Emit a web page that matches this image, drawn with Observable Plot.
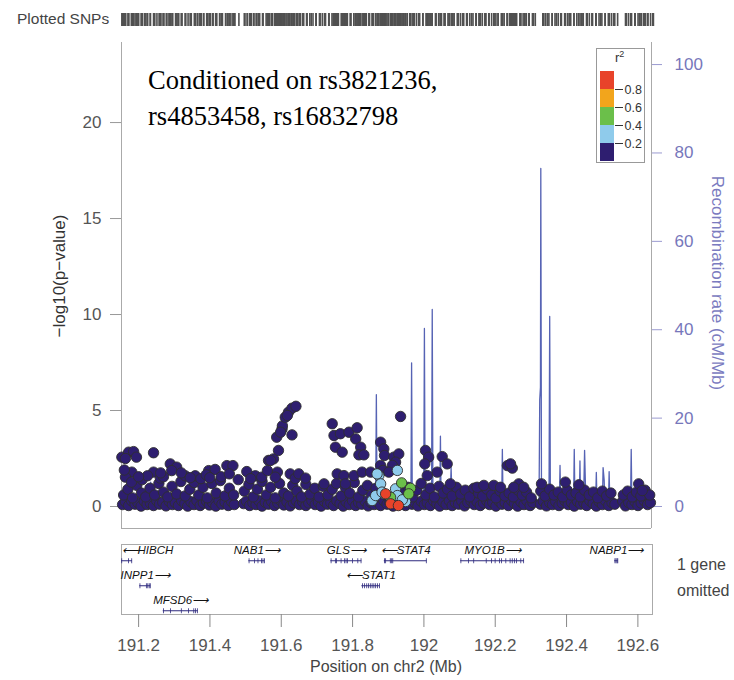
<!DOCTYPE html>
<html><head><meta charset="utf-8">
<script src="https://cdn.jsdelivr.net/npm/d3@7"></script>
<script src="https://cdn.jsdelivr.net/npm/@observablehq/plot@0.6"></script>
<style>
body{margin:0;background:#fff;font-family:"Liberation Sans",Arial,sans-serif;}
#fig{position:relative;width:734px;height:680px;overflow:hidden;background:#fff;}
#fig > *{position:absolute;}
.t{white-space:nowrap;color:#444;}
</style></head><body><div id="fig"></div>
<script>
// ---------- data ----------
const xDomain = [191.152, 192.641];
const xTicks = [191.2, 191.4, 191.6, 191.8, 192.0, 192.2, 192.4, 192.6];
const xTickLabels = ["191.2","191.4","191.6","191.8","192","192.2","192.4","192.6"];
const pDomain = [-1.146, 24.17];
const pTicks = [0, 5, 10, 15, 20];
const recombTicks = [0, 20, 40, 60, 80, 100];
const recombToLogP = 23.02 / 100;
const r2Breaks = [0.2, 0.4, 0.6, 0.8];
const r2Colors = ["#2E1E70", "#8FCBEB", "#6BBF4A", "#F2A51C", "#E8432A"];

// SNPs with r2 < 0.2 : [position Mb, -log10 p]
const snpsR2Low = [
 [191.155,0.1],[191.163,0.25],[191.172,0.05],[191.180,0.3],[191.190,0.12],[191.198,0.2],[191.207,0.02],[191.216,0.28],[191.224,0.1],[191.233,0.18],
 [191.242,0.05],[191.251,0.3],[191.259,0.12],[191.268,0.22],[191.277,0.03],[191.286,0.27],[191.295,0.1],[191.303,0.2],[191.312,0.05],[191.321,0.3],
 [191.330,0.15],[191.338,0.02],[191.347,0.25],[191.356,0.1],[191.364,0.3],[191.373,0.05],[191.382,0.18],[191.391,0.28],[191.399,0.08],[191.408,0.2],
 [191.417,0.02],[191.426,0.3],[191.434,0.12],[191.443,0.22],[191.452,0.05],[191.461,0.26],[191.469,0.1],[191.495,0.15],[191.503,0.28],[191.512,0.05],
 [191.521,0.2],[191.530,0.1],[191.538,0.3],[191.547,0.02],[191.556,0.22],[191.565,0.12],[191.573,0.28],[191.582,0.05],[191.591,0.18],[191.600,0.3],
 [191.608,0.08],[191.617,0.24],[191.626,0.03],[191.635,0.2],[191.643,0.3],[191.652,0.1],[191.661,0.25],[191.670,0.05],[191.678,0.18],[191.687,0.3],
 [191.696,0.1],[191.705,0.22],[191.713,0.02],[191.722,0.27],[191.731,0.12],[191.740,0.2],[191.748,0.05],[191.757,0.3],[191.766,0.15],[191.775,0.02],
 [191.783,0.25],[191.792,0.1],[191.801,0.3],[191.810,0.05],[191.818,0.2],[191.827,0.12],[191.836,0.28],[191.845,0.03],[191.853,0.2],[191.862,0.1],
 [191.871,0.25],[191.880,0.05],[191.889,0.3],[191.898,0.12],[191.906,0.2],[191.915,0.02],[191.924,0.28],[191.933,0.1],[191.941,0.22],[191.950,0.05],
 [191.959,0.3],[191.968,0.12],[191.976,0.2],[191.985,0.03],[191.994,0.27],[192.003,0.1],[192.011,0.2],[192.020,0.05],[192.029,0.3],[192.038,0.15],
 [192.046,0.02],[192.055,0.25],[192.064,0.1],[192.073,0.3],[192.081,0.05],[192.090,0.2],[192.099,0.12],[192.108,0.28],[192.116,0.03],[192.125,0.2],
 [192.134,0.3],[192.143,0.1],[192.151,0.25],[192.160,0.05],[192.169,0.18],[192.178,0.3],[192.186,0.1],[192.195,0.22],[192.204,0.02],[192.213,0.27],
 [192.221,0.12],[192.230,0.2],[192.239,0.05],[192.248,0.3],[192.256,0.15],[192.265,0.02],[192.274,0.25],[192.283,0.1],[192.291,0.3],[192.300,0.05],
 [192.308,0.2],[192.329,0.12],[192.337,0.28],[192.346,0.03],[192.355,0.2],[192.363,0.1],[192.372,0.25],[192.381,0.05],[192.390,0.18],[192.398,0.3],
 [192.407,0.1],[192.416,0.22],[192.424,0.02],[192.433,0.27],[192.442,0.12],[192.451,0.2],[192.459,0.05],[192.468,0.3],[192.477,0.15],[192.486,0.02],
 [192.494,0.25],[192.503,0.1],[192.512,0.3],[192.521,0.05],[192.530,0.2],[192.538,0.12],[192.560,0.28],[192.568,0.03],[192.577,0.2],[192.586,0.1],
 [192.595,0.25],[192.603,0.05],[192.612,0.18],[192.621,0.3],[192.630,0.1],[192.638,0.2],
 [191.158,0.6],[191.170,0.9],[191.183,0.45],[191.195,1.1],[191.208,0.7],[191.220,0.5],[191.232,0.95],[191.245,0.6],[191.257,1.2],[191.270,0.75],
 [191.282,0.5],[191.294,1.05],[191.307,0.65],[191.319,1.3],[191.331,0.55],[191.344,0.9],[191.356,1.25],[191.369,0.6],[191.381,1.0],[191.393,0.45],
 [191.406,1.2],[191.418,0.7],[191.430,1.35],[191.443,0.55],[191.455,0.95],[191.467,0.6],[191.497,0.8],[191.510,1.15],[191.522,0.5],[191.534,0.9],
 [191.547,1.3],[191.559,0.6],[191.571,1.0],[191.584,0.45],[191.596,1.2],[191.608,0.7],[191.621,0.55],[191.633,1.1],[191.645,0.8],[191.658,0.5],
 [191.670,1.15],[191.682,0.65],[191.695,0.95],[191.707,0.5],[191.719,1.05],[191.732,0.6],[191.744,0.9],[191.756,1.2],[191.769,0.55],[191.781,1.0],
 [191.793,0.7],[191.806,1.25],[191.818,0.5],[191.830,0.85],[191.843,1.1],[191.855,0.6],[191.867,0.95],[191.945,0.7],[191.957,1.0],[191.970,0.5],
 [191.982,0.85],[191.994,1.2],[192.007,0.6],[192.019,0.95],[192.031,0.5],[192.044,1.05],[192.056,0.7],[192.068,0.9],[192.081,0.55],[192.093,1.0],
 [192.105,0.65],[192.118,0.85],[192.130,0.5],[192.142,0.95],[192.155,0.7],[192.167,0.55],[192.179,0.9],[192.192,0.6],[192.204,0.45],[192.216,0.8],
 [192.229,0.55],[192.241,0.7],[192.253,0.5],[192.266,0.85],[192.278,0.6],[192.290,0.75],[192.303,0.45],[192.330,0.8],[192.342,0.55],[192.355,0.9],
 [192.367,0.6],[192.379,0.75],[192.392,0.5],[192.404,0.85],[192.416,0.6],[192.429,0.7],[192.441,0.5],[192.453,0.85],[192.466,0.6],[192.478,0.75],
 [192.490,0.45],[192.503,0.8],[192.515,0.55],[192.527,0.7],[192.562,0.6],[192.574,0.8],[192.587,0.5],[192.599,0.75],[192.611,0.55],[192.623,0.85],[192.636,0.6],
 [191.153,2.57],[191.172,2.83],[191.186,2.86],[191.194,2.57],[191.163,2.5],[191.242,2.8],[191.181,1.79],[191.163,1.53],[191.180,1.27],[191.242,1.79],
 [191.261,1.48],[191.289,2.22],[191.307,2.05],[191.293,1.87],[191.331,1.6],[191.359,1.6],[191.397,1.87],[191.415,1.93],[191.448,2.13],[191.465,2.13],
 [191.504,1.82],[191.528,1.6],[191.546,1.53],[191.210,1.4],[191.225,1.6],[191.375,1.45],[191.432,1.55],[191.480,1.4],
 [191.270,1.55],[191.320,1.75],[191.345,1.5],[191.390,1.65],[191.455,1.7],[191.515,1.45],[191.160,1.9],[191.200,1.55],[191.262,1.75],[191.400,1.5],
 [191.565,2.4],[191.579,2.48],[191.593,2.92],[191.588,3.61],[191.603,4.04],[191.604,4.2],[191.631,3.73],[191.612,4.65],[191.621,4.91],[191.631,5.12],
 [191.642,5.22],[191.618,4.74],[191.599,3.87],[191.571,2.4],[191.562,1.87],[191.590,1.79],[191.584,1.53],[191.626,1.7],[191.640,1.46],
 [191.650,1.7],[191.669,1.48],[191.744,4.31],[191.749,3.7],[191.767,3.79],[191.791,3.87],[191.814,4.1],[191.810,3.52],[191.753,3.09],[191.772,2.83],
 [191.824,3.09],[191.819,2.69],[191.833,2.69],[191.936,4.69],[191.880,3.35],[191.889,3.0],[191.891,2.66],[191.917,2.57],[191.931,2.74],[191.922,2.31],
 [191.913,2.14],[191.880,2.14],[191.887,1.88],[191.903,1.79],[192.006,2.92],[192.015,2.57],[192.004,2.22],[192.053,2.6],[192.067,2.22],[192.039,1.79],
 [192.011,1.61],[192.076,1.18],[191.758,1.7],[191.777,1.61],[191.805,1.61],[191.828,1.79],[191.852,1.79],[191.721,1.18],[191.781,1.18],
 [192.236,2.13],[192.250,2.0],[192.245,2.22],[192.268,1.18],[192.282,1.0],[192.254,1.0],[192.332,1.18],[192.399,1.27],[192.437,1.13],[192.605,1.18],
 [192.615,0.83],[192.151,1.0],[192.170,1.1],[192.198,1.1],[192.217,1.0]
];
const snpsR2LightBlue = [
 [191.927,1.88],[191.875,1.61],[191.880,1.18],[191.922,0.92],[191.927,0.57],[191.889,0.66],[191.856,0.31],[191.950,0.26],[191.866,0.57],
 [191.870,1.7],[191.884,0.75],[191.941,0.35]
];
const snpsR2Green = [[191.939,1.23],[191.964,0.95],[191.959,0.66],[191.908,0.48]];
const snpsR2Orange = [];
const snpsR2Red = [[191.894,0.66],[191.908,0.14],[191.930,0.05]];

// recombination rate (cM/Mb)
const recombMb = [191.153,191.18,191.22,191.232,191.234,191.236,191.30,191.35,191.42,191.50,191.55,191.60,191.65,191.70,191.75,191.80,191.83,191.84,
 191.866,191.868,191.870,191.90,191.92,191.94,191.965,191.967,191.969,192.001,192.003,192.005,192.023,192.025,192.027,192.046,192.048,192.050,
 192.075,192.078,192.081,192.12,192.18,192.220,192.222,192.224,192.28,192.325,192.327,192.329,192.330,192.332,192.353,192.355,192.357,
 192.382,192.384,192.386,192.422,192.424,192.426,192.438,192.440,192.442,192.450,192.453,192.456,192.458,192.484,192.486,192.488,
 192.503,192.505,192.508,192.510,192.520,192.522,192.524,192.582,192.584,192.586,192.64];
const recombRate = [0.3,0.5,0.4,0.6,5.5,0.5,0.8,0.4,0.6,0.3,0.7,0.5,0.4,1.0,0.6,1.2,2.0,3.0,
 0.5,25.3,0.5,1.0,0.3,0.5,0.3,32.5,0.4,0.3,40.3,0.3,0.3,44.6,0.3,0.3,15.9,0.3,
 0.5,8.9,0.5,0.5,0.4,0.3,12.9,0.3,0.5,0.5,24.2,27,76.5,0.5,0.5,43,0.5,
 0.5,9.3,0.5,0.5,12.9,0.5,0.5,10.3,0.5,0.5,12.7,3,0.5,0.5,7.7,0.5,
 0.5,8.8,6,0.5,0.5,7.9,0.5,0.5,12.9,0.5,0.5];

// genes
const geneNames = ["HIBCH","INPP1","MFSD6","NAB1","GLS","STAT1","STAT4","MYO1B","NABP1"];
const geneStart = [191.054,191.203,191.269,191.509,191.739,191.826,191.889,192.103,192.535];
const geneEnd   = [191.183,191.234,191.367,191.554,191.826,191.877,192.009,192.282,192.545];
const geneStrand = ["-","+","+","+","+","-","-","+","+"];
const geneRow = [0,1,2,0,0,1,0,0,0];
const geneExons = [
 [191.153,191.172,191.181],
 [191.204,191.222,191.226,191.230,191.233],
 [191.270,191.290,191.320,191.340,191.355,191.360,191.365],
 [191.510,191.525,191.535,191.545,191.549,191.553],
 [191.740,191.752,191.755,191.768,191.778,191.782,191.786,191.800,191.815,191.824],
 [191.828,191.834,191.840,191.845,191.850,191.855,191.860,191.865,191.870,191.876],
 [191.890,191.893,191.906,191.910,191.913,192.007],
 [192.104,192.125,192.140,192.175,192.190,192.200,192.212,192.218,192.230,192.242,192.248,192.254,192.260,192.272,192.280],
 [192.536,192.539,192.542,192.544]
];

// ---------- build ----------
const fig = document.getElementById("fig");
const W = 734, ML = 121, MR = 83;
const FONT = "Liberation Sans, Arial, sans-serif";
function place(el, left, top){ el.style.left = left+"px"; el.style.top = top+"px"; fig.appendChild(el); return el; }
function txt(html, left, top, css){ const d=document.createElement("div"); d.className="t"; d.innerHTML=html; d.style.cssText += css||""; return place(d,left,top); }

// Plotted SNPs strip
const allSnps = [...snpsR2Low, ...snpsR2LightBlue, ...snpsR2Green, ...snpsR2Orange, ...snpsR2Red];
const strip = Plot.plot({
  width: W, height: 30, marginLeft: ML, marginRight: MR - 3, marginTop: 13, marginBottom: 4,
  x: {domain: xDomain, axis: null}, y: {axis: null},
  style: {background: "transparent"},
  marks: [Plot.tickX(allSnps, {x: d => d[0], stroke: "#505050", strokeWidth: 1.6})]
});
place(strip, 0, 0);
txt("Plotted SNPs", 17, 10, "font-size:15.5px;color:#444;");

// main panel
const snpDots = (data, color) => Plot.dot(data, {x: d => d[0], y: d => d[1], r: 5.2, fill: color, stroke: "#2f2f2f", strokeWidth: 0.9});
const recomb = recombMb.map((m, i) => ({mb: m, rate: recombRate[i]}));
const main = Plot.plot({
  width: W, height: 545, marginLeft: ML, marginRight: MR, marginTop: 42, marginBottom: 17,
  x: {domain: xDomain, axis: null},
  y: {domain: pDomain, axis: null},
  style: {background: "transparent", fontFamily: FONT},
  marks: [
    Plot.line(recomb, {x: "mb", y: d => d.rate * recombToLogP, stroke: "#5663B4", strokeWidth: 1.3}),
    Plot.ruleX([xDomain[0]], {stroke: "#aaa"}),
    Plot.ruleX([xDomain[1]], {stroke: "#aaa"}),
    Plot.ruleY([pDomain[0]], {stroke: "#aaa"}),
    Plot.axisY(pTicks, {anchor: "left", tickSize: 11, tickPadding: 9, fontSize: 17, stroke: "#999", fill: "#555", tickFormat: d => d}),
    Plot.axisY(recombTicks.map(r => r * recombToLogP), {anchor: "right", tickSize: 10, tickPadding: 13, fontSize: 17, stroke: "#9a9ad0", fill: "#7777bb", tickFormat: d => Math.round(d / recombToLogP)}),
    snpDots(snpsR2Low, r2Colors[0]),
    snpDots(snpsR2LightBlue, r2Colors[1]),
    snpDots(snpsR2Green, r2Colors[2]),
    snpDots(snpsR2Orange, r2Colors[3]),
    snpDots(snpsR2Red, r2Colors[4])
  ]
});
place(main, 0, 0);

txt("Conditioned on rs3821236,<br>rs4853458, rs16832798", 148, 62, "font-family:'Liberation Serif','Times New Roman',serif;font-size:26.5px;line-height:36px;color:#000;");
txt("−log10(p−value)", 60, 276, "font-size:17px;color:#333;transform:translate(-50%,-50%) rotate(-90deg);");
txt("Recombination rate (cM/Mb)", 717, 283, "font-size:17px;color:#7b7bbf;transform:translate(-50%,-50%) rotate(90deg);");

// legend
const lgBox = document.createElement("div");
lgBox.style.cssText = "width:49px;height:115px;border:1px solid #999;background:#fff;box-sizing:border-box;";
place(lgBox, 596, 48);
const r2Bins = r2Colors.map((c, i) => ({lo: i * 0.2, hi: (i + 1) * 0.2, c}));
const legend = Plot.plot({
  width: 49, height: 115, marginLeft: 4, marginRight: 31, marginTop: 23, marginBottom: 2,
  x: {axis: null}, y: {domain: [0, 1], axis: null},
  style: {background: "transparent", fontFamily: FONT},
  marks: [
    Plot.rectY(r2Bins, {y1: "lo", y2: "hi", fill: "c"}),
    Plot.axisY(r2Breaks, {anchor: "right", tickSize: 8, tickPadding: 2, fontSize: 12.5, stroke: "#333", fill: "#333", tickFormat: d => d.toFixed(1)})
  ]
});
place(legend, 596, 48);
txt("r<sup style='font-size:9px'>2</sup>", 615, 49, "font-size:13px;color:#333;");

// gene panel
const genes = geneNames.map((n, i) => ({name: n, s: geneStart[i], e: geneEnd[i], strand: geneStrand[i], row: geneRow[i],
  label: geneStrand[i] === "-" ? "\u27F5" + n : n + "\u27F6"}));
const exons = genes.flatMap((g, i) => geneExons[i].map(x => ({x1: x, x2: x + 0.0022, row: g.row})));
const clipped = genes.filter(g => g.s < xDomain[0]);
const inside = genes.filter(g => g.s >= xDomain[0]);
const gp = Plot.plot({
  width: W, height: 140, marginLeft: ML, marginRight: 82, marginTop: 4, marginBottom: 66,
  x: {domain: xDomain, axis: null},
  y: {domain: [2.15, -0.65], axis: null},
  style: {background: "transparent", fontFamily: FONT},
  marks: [
    Plot.frame({stroke: "#aaa"}),
    Plot.ruleY(genes, {y: "row", x1: g => Math.max(g.s, xDomain[0]), x2: "e", stroke: "#2E2A7E", strokeWidth: 1}),
    Plot.ruleY(exons, {y: "row", x1: "x1", x2: "x2", stroke: "#2E2A7E", strokeWidth: 5}),
    Plot.text(inside, {x: g => (g.s + g.e) / 2, y: "row", dy: -10, text: "label", textAnchor: "middle", fontSize: 11.5, fontStyle: "italic", fill: "#111"}),
    Plot.text(clipped, {x: () => xDomain[0], y: "row", dy: -10, text: "label", textAnchor: "start", fontSize: 11.5, fontStyle: "italic", fill: "#111"}),
    Plot.axisX(xTicks, {anchor: "bottom", tickSize: 13, tickPadding: 11, fontSize: 17, stroke: "#888", fill: "#555",
      tickFormat: d => xTickLabels[xTicks.indexOf(d)]})
  ]
});
place(gp, 0, 540);
txt("1 gene", 677, 556, "font-size:16px;color:#444;");
txt("omitted", 677, 582, "font-size:16px;color:#444;");
txt("Position on chr2 (Mb)", 386, 667, "font-size:16px;color:#444;transform:translate(-50%,-50%);");
</script></body></html>
